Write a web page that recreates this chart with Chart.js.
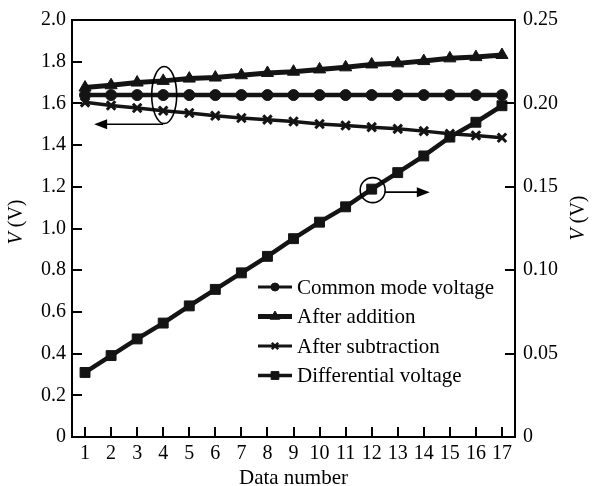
<!DOCTYPE html>
<html>
<head>
<meta charset="utf-8">
<script src="https://cdn.jsdelivr.net/npm/chart.js@4/dist/chart.umd.min.js"></script>
<style>
html,body{margin:0;padding:0;background:#fff;}
canvas{display:block;}
</style>
</head>
<body>
<canvas id="c" width="592" height="486"></canvas>
<script>
const categories = ['1','2','3','4','5','6','7','8','9','10','11','12','13','14','15','16','17'];
const commonMode = [1.64,1.64,1.64,1.64,1.64,1.64,1.64,1.64,1.64,1.64,1.64,1.64,1.64,1.64,1.64,1.64,1.64];
const afterAddition = [1.676,1.687,1.700,1.708,1.719,1.724,1.735,1.746,1.752,1.763,1.773,1.787,1.792,1.803,1.816,1.822,1.832];
const afterSubtraction = [1.605,1.590,1.578,1.565,1.554,1.541,1.530,1.522,1.513,1.501,1.494,1.486,1.478,1.467,1.454,1.446,1.435];
const differential = [0.0387,0.0488,0.0588,0.0683,0.0786,0.0885,0.0984,0.1083,0.1189,0.1288,0.1380,0.1486,0.1585,0.1685,0.1798,0.1887,0.1986];
const seriesNames = ['Common mode voltage','After addition','After subtraction','Differential voltage'];
const xTitle = 'Data number';

const INK = '#141414';
const SERIF = '"Liberation Serif", "Times New Roman", serif';

const datasets = [
  {label: seriesNames[0], data: commonMode, yAxisID: 'y', borderColor: INK, backgroundColor: INK,
   borderWidth: 4.5, pointStyle: 'circle', pointRadius: 5.5, pointBorderWidth: 1},
  {label: seriesNames[1], data: afterAddition, yAxisID: 'y', borderColor: INK, backgroundColor: INK,
   borderWidth: 5, pointStyle: 'triangle', pointRadius: 7, pointBorderWidth: 1},
  {label: seriesNames[2], data: afterSubtraction, yAxisID: 'y', borderColor: INK, backgroundColor: INK,
   borderWidth: 3.5, pointStyle: 'crossRot', pointRadius: 6, pointBorderWidth: 3},
  {label: seriesNames[3], data: differential, yAxisID: 'y2', borderColor: INK, backgroundColor: INK,
   borderWidth: 4.5, pointStyle: 'rect', pointRadius: 7, pointBorderWidth: 1}
];

const deco = {
  id: 'deco',
  beforeDraw(chart) {
    const ctx = chart.ctx;
    ctx.save();
    ctx.fillStyle = '#fff';
    ctx.fillRect(0, 0, chart.width, chart.height);
    ctx.restore();
  },
  afterDraw(chart) {
    const ctx = chart.ctx;
    const a = chart.chartArea;
    const xs = chart.scales.x, ys = chart.scales.y, y2 = chart.scales.y2;
    ctx.save();
    ctx.strokeStyle = '#000';
    ctx.lineWidth = 2;
    ctx.strokeRect(a.left, a.top, a.right - a.left, a.bottom - a.top);
    ctx.lineWidth = 2;
    ctx.beginPath();
    xs.ticks.forEach((t, i) => {
      const px = Math.round(xs.getPixelForTick(i));
      ctx.moveTo(px, a.bottom); ctx.lineTo(px, a.bottom - 10);
    });
    ys.ticks.forEach((t) => {
      const py = Math.round(ys.getPixelForValue(t.value));
      ctx.moveTo(a.left, py); ctx.lineTo(a.left + 10, py);
    });
    y2.ticks.forEach((t) => {
      const py = Math.round(y2.getPixelForValue(t.value));
      ctx.moveTo(a.right, py); ctx.lineTo(a.right - 10, py);
    });
    ctx.stroke();

    function vTitle(cx, cy) {
      ctx.save();
      ctx.translate(cx, cy);
      ctx.rotate(-Math.PI / 2);
      ctx.fillStyle = '#000';
      ctx.textBaseline = 'middle';
      ctx.font = 'italic 20px ' + SERIF;
      const w1 = ctx.measureText('V').width;
      ctx.font = '20px ' + SERIF;
      const w2 = ctx.measureText(' (V)').width;
      const x0 = -(w1 + w2) / 2;
      ctx.font = 'italic 20px ' + SERIF;
      ctx.textAlign = 'left';
      ctx.fillText('V', x0, 0);
      ctx.font = '20px ' + SERIF;
      ctx.fillText(' (V)', x0 + w1, 0);
      ctx.restore();
    }
    vTitle(17, 222);
    vTitle(579, 218);

    const lx0 = 258, lx1 = 292, tx = 297;
    const rowY = [287, 316.5, 346, 375.5];
    const lw = [3, 5, 3, 3.5];
    const legendPointRadius = [4, 5.5, 4.5, 5.5];
    chart.data.datasets.forEach((ds, i) => {
      const y = rowY[i];
      ctx.strokeStyle = INK;
      ctx.lineWidth = lw[i];
      ctx.beginPath();
      ctx.moveTo(lx0, y); ctx.lineTo(lx1, y);
      ctx.stroke();
      const opts = {pointStyle: ds.pointStyle, radius: legendPointRadius[i], rotation: 0,
                    borderWidth: ds.pointStyle === 'crossRot' ? 2.5 : 1};
      ctx.fillStyle = INK; ctx.strokeStyle = INK; ctx.lineWidth = opts.borderWidth;
      if (Chart.helpers && Chart.helpers.drawPoint) {
        Chart.helpers.drawPoint(ctx, opts, (lx0 + lx1) / 2, y);
      }
      ctx.fillStyle = '#000';
      ctx.font = '21px ' + SERIF;
      ctx.textAlign = 'left';
      ctx.textBaseline = 'middle';
      ctx.fillText(ds.label, tx, y + 1);
    });

    ctx.strokeStyle = '#000';
    ctx.fillStyle = '#000';
    ctx.lineWidth = 1.6;
    const ex = xs.getPixelForValue(3);
    const ey = ys.getPixelForValue(1.64);
    ctx.beginPath();
    ctx.ellipse(ex + 1, ey, 12.5, 28.5, 0, 0, Math.PI * 2);
    ctx.stroke();
    const ay = ys.getPixelForValue(1.5);
    const ax0 = ex, ax1 = xs.getPixelForValue(0.35);
    ctx.beginPath(); ctx.moveTo(ax0, ay); ctx.lineTo(ax1 + 8, ay); ctx.stroke();
    ctx.beginPath(); ctx.moveTo(ax1, ay); ctx.lineTo(ax1 + 13, ay - 5); ctx.lineTo(ax1 + 13, ay + 5); ctx.closePath(); ctx.fill();
    const cx = xs.getPixelForValue(11) + 1;
    const cy = y2.getPixelForValue(differential[11]) + 1;
    ctx.beginPath();
    ctx.arc(cx, cy, 12.5, 0, Math.PI * 2);
    ctx.stroke();
    const by = cy + 2;
    const bx1 = xs.getPixelForValue(13.23);
    ctx.beginPath(); ctx.moveTo(cx + 12, by); ctx.lineTo(bx1 - 8, by); ctx.stroke();
    ctx.beginPath(); ctx.moveTo(bx1, by); ctx.lineTo(bx1 - 13, by - 5); ctx.lineTo(bx1 - 13, by + 5); ctx.closePath(); ctx.fill();
    ctx.restore();
  }
};

new Chart(document.getElementById('c'), {
  type: 'line',
  data: {labels: categories, datasets: datasets},
  options: {
    responsive: false,
    animation: false,
    devicePixelRatio: 1,
    layout: {padding: {top: 18, left: 0, right: 0, bottom: 0}},
    plugins: {legend: {display: false}, tooltip: {enabled: false}},
    elements: {line: {tension: 0}},
    scales: {
      x: {
        type: 'category',
        offset: true,
        grid: {display: false, drawTicks: false},
        border: {display: false},
        ticks: {color: '#000', font: {family: SERIF, size: 20}, padding: 5, maxRotation: 0, autoSkip: false},
        title: {display: true, text: xTitle, color: '#000', font: {family: SERIF, size: 21, lineHeight: 1}, padding: {top: 0, bottom: -3}},
        afterFit(s) { s.height = 49; }
      },
      y: {
        position: 'left',
        min: 0, max: 2.0,
        grid: {display: false, drawTicks: false},
        border: {display: false},
        ticks: {stepSize: 0.2, color: '#000', font: {family: SERIF, size: 20}, padding: 6,
                callback: (v) => v === 0 ? '0' : Number(v).toFixed(1)},
        afterFit(s) { s.width = 72; }
      },
      y2: {
        position: 'right',
        min: 0, max: 0.25,
        grid: {display: false, drawTicks: false},
        border: {display: false},
        ticks: {stepSize: 0.05, color: '#000', font: {family: SERIF, size: 20}, padding: 8,
                callback: (v) => v === 0 ? '0' : Number(v).toFixed(2)},
        afterFit(s) { s.width = 77; }
      }
    }
  },
  plugins: [deco]
});
</script>
</body>
</html>
